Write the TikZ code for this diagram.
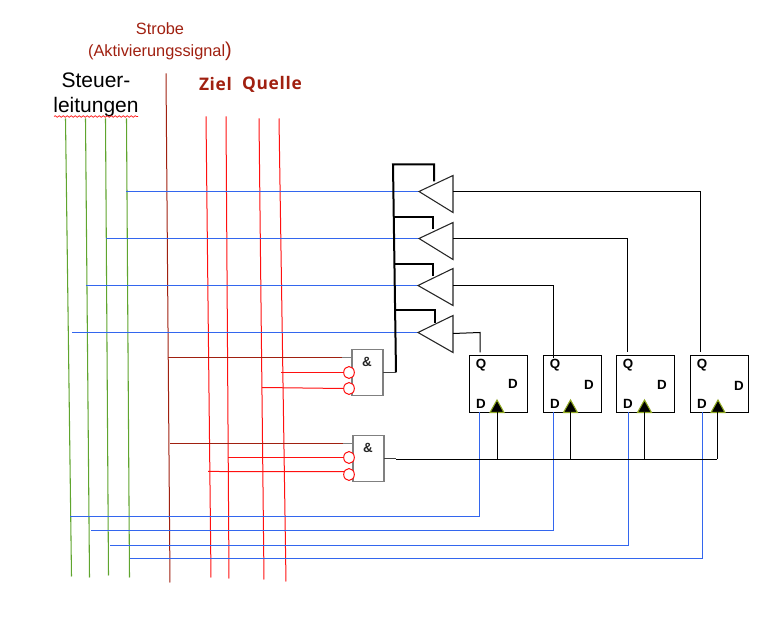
\documentclass[tikz,border=0pt]{standalone}
\usepackage{fontspec}
\setmainfont{Liberation Sans}
\newfontfamily\headfont[LetterSpace=4]{Open Sans Bold}
\usetikzlibrary{decorations.pathmorphing}
\definecolor{ctlgreen}{HTML}{5FA52E}
\definecolor{sigblue}{HTML}{3366EE}
\definecolor{sigred}{HTML}{FF1010}
\definecolor{darkred}{HTML}{A02010}
\definecolor{gategrey}{HTML}{808080}
\definecolor{clkedge}{HTML}{8FA820}
\tikzset{
  ctl/.style={ctlgreen,line width=0.8pt},
  strobe/.style={darkred,line width=0.75pt},
  sel/.style={sigred,line width=0.75pt},
  dat/.style={sigblue,line width=0.75pt},
  wire/.style={black,line width=0.75pt},
  bus/.style={black,line width=1.5pt},
  stub/.style={gategrey,line width=1pt},
  driver/.style={draw=black!85,fill=white,line width=0.8pt,line join=miter},
  gatebox/.style={draw=gategrey,fill=white,line width=1pt,minimum width=23.25pt,minimum height=34.5pt,inner sep=0pt},
  ffbox/.style={draw=black,fill=white,line width=0.75pt,minimum width=43.5pt,minimum height=42.75pt,inner sep=0pt},
  neg/.style={ellipse,draw=sigred,fill=white,line width=0.75pt,minimum width=8pt,minimum height=9pt,inner sep=0pt},
  pin/.style={font=\fontsize{10pt}{10pt}\selectfont\bfseries,inner sep=0pt},
  amp/.style={font=\fontsize{10pt}{10pt}\selectfont\bfseries,text=black!85,inner sep=0pt},
  clk/.style={fill=black,draw=clkedge,line width=0.8pt,line join=miter},
  head/.style={font=\headfont\fontsize{13pt}{14pt}\selectfont,text=darkred,inner sep=0pt},
  note/.style={font=\fontsize{12.25pt}{13pt}\selectfont,text=darkred,inner sep=0pt},
  black label/.style={font=\fontsize{15.75pt}{16pt}\selectfont,inner sep=0pt}
}
\usetikzlibrary{shapes.geometric}
\begin{document}
\begin{tikzpicture}[x=0.75pt,y=-0.75pt]
\useasboundingbox (0,0) rectangle (765,620);
\begin{scope}[shift={(0,0.5)}]
% vertical lines
\coordinate (g1a) at (65.5,118);  \coordinate (g1b) at (71.5,576);
\coordinate (g2a) at (85.5,118);  \coordinate (g2b) at (89.5,577);
\coordinate (g3a) at (105.5,118); \coordinate (g3b) at (108.5,575);
\coordinate (g4a) at (126.5,118); \coordinate (g4b) at (129.5,577);
\coordinate (sa) at (166,73);   \coordinate (sb) at (170,582);
\coordinate (z1a) at (206,116); \coordinate (z1b) at (211,577);
\coordinate (z2a) at (226,116); \coordinate (z2b) at (229,578);
\coordinate (q1a) at (259,118); \coordinate (q1b) at (264,579);
\coordinate (q2a) at (279,118); \coordinate (q2b) at (286,581);
\draw[ctl] (g1a) -- (g1b);
\draw[ctl] (g2a) -- (g2b);
\draw[ctl] (g3a) -- (g3b);
\draw[ctl] (g4a) -- (g4b);
\draw[strobe] (sa) -- (sb);
\draw[sel] (z1a) -- (z1b);
\draw[sel] (z2a) -- (z2b);
\draw[sel] (q1a) -- (q1b);
\draw[sel] (q2a) -- (q2b);
% drivers: tip, top, bottom
\coordinate (t1) at (419,191); \coordinate (t1u) at (453,175); \coordinate (t1d) at (453,212);
\coordinate (t2) at (419,238); \coordinate (t2u) at (453,222); \coordinate (t2d) at (453,259);
\coordinate (t3) at (418,285); \coordinate (t3u) at (453,268); \coordinate (t3d) at (453,305);
\coordinate (t4) at (418,332); \coordinate (t4u) at (453,315); \coordinate (t4d) at (453,352);
% control blue
\coordinate (c1) at (126,191); \coordinate (c2) at (106,238);
\coordinate (c3) at (86,285);  \coordinate (c4) at (72,332);
\draw[dat] (c1) -- (t1);
\draw[dat] (c2) -- (t2);
\draw[dat] (c3) -- (t3);
\draw[dat] (c4) -- (t4);
% bus
\coordinate (busT) at (393,164); \coordinate (busB) at (396,372);
\coordinate (e1) at (434,164); \coordinate (e1b) at (434,181);
\coordinate (s2) at (394,217); \coordinate (e2) at (433,217); \coordinate (e2b) at (433,229);
\coordinate (s3) at (394,264); \coordinate (e3) at (433,264); \coordinate (e3b) at (433,276);
\coordinate (s4) at (396,310); \coordinate (e4) at (435,310); \coordinate (e4b) at (435,323);
\draw[bus] (busB) -- (busT) -- (e1) -- (e1b);
\draw[bus] (s2) -- (e2) -- (e2b);
\draw[bus] (s3) -- (e3) -- (e3b);
\draw[bus] (s4) -- (e4) -- (e4b);
\draw[driver] (t1) -- (t1u) -- (t1d) -- cycle;
\draw[driver] (t2) -- (t2u) -- (t2d) -- cycle;
\draw[driver] (t3) -- (t3u) -- (t3d) -- cycle;
\draw[driver] (t4) -- (t4u) -- (t4d) -- cycle;
% flip-flops
\node[ffbox] (f1) at (498,383.5) {};
\node[ffbox] (f2) at (572,383.5) {};
\node[ffbox] (f3) at (645,383.5) {};
\node[ffbox] (f4) at (719,383.5) {};
\node[pin] (f1q) at (481,365) {Q}; \node[pin] (f1r) at (513,383) {D}; \node[pin] (f1d) at (481,403) {D};
\node[pin] (f2q) at (555,365) {Q}; \node[pin] (f2r) at (589,384) {D}; \node[pin] (f2d) at (555,403) {D};
\node[pin] (f3q) at (628,365) {Q}; \node[pin] (f3r) at (662,384) {D}; \node[pin] (f3d) at (628,403) {D};
\node[pin] (f4q) at (702,365) {Q}; \node[pin] (f4r) at (739,385) {D}; \node[pin] (f4d) at (702,403) {D};
\coordinate (k1) at (497,399.5); \coordinate (k1l) at (490,412); \coordinate (k1r) at (504,412);
\coordinate (k2) at (570.5,399.5); \coordinate (k2l) at (563.5,412); \coordinate (k2r) at (577.5,412);
\coordinate (k3) at (644.5,399.5); \coordinate (k3l) at (637.5,412); \coordinate (k3r) at (651.5,412);
\coordinate (k4) at (718,399.5); \coordinate (k4l) at (711,412); \coordinate (k4r) at (725,412);
\draw[clk] (k1) -- (k1l) -- (k1r) -- cycle;
\draw[clk] (k2) -- (k2l) -- (k2r) -- cycle;
\draw[clk] (k3) -- (k3l) -- (k3r) -- cycle;
\draw[clk] (k4) -- (k4l) -- (k4r) -- cycle;
% driver outputs
\coordinate (o1) at (453,191); \coordinate (o1a) at (700,191); \coordinate (o1b) at (700,352);
\coordinate (o2) at (453,238); \coordinate (o2a) at (627,238); \coordinate (o2b) at (627,352);
\coordinate (o3) at (453,285); \coordinate (o3a) at (553,285); \coordinate (o3b) at (553,358);
\coordinate (o4) at (453,333); \coordinate (o4a) at (480,332); \coordinate (o4b) at (480,352);
\draw[wire] (o1) -- (o1a) -- (o1b);
\draw[wire] (o2) -- (o2a) -- (o2b);
\draw[wire] (o3) -- (o3a) -- (o3b);
\draw[wire] (o4) -- (o4a) -- (o4b);
% data lines
\coordinate (d1) at (479,412); \coordinate (d1a) at (479,516); \coordinate (d1b) at (70,516);
\coordinate (d2) at (553,412); \coordinate (d2a) at (553,530); \coordinate (d2b) at (91,530);
\coordinate (d3) at (628,412); \coordinate (d3a) at (628,545); \coordinate (d3b) at (110,545);
\coordinate (d4) at (702,412); \coordinate (d4a) at (702,558); \coordinate (d4b) at (130,558);
\draw[dat] (d1) -- (d1a) -- (d1b);
\draw[dat] (d2) -- (d2a) -- (d2b);
\draw[dat] (d3) -- (d3a) -- (d3b);
\draw[dat] (d4) -- (d4a) -- (d4b);
% gates
\node[gatebox] (a1) at (367.5,372) {};
\node[gatebox] (a2) at (368.5,458) {};
\node[amp] (a1t) at (367,361) {\&};
\node[amp] (a2t) at (368,447) {\&};
\node[neg] (n1) at (349,372) {};
\node[neg] (n2) at (349,388) {};
\node[neg] (n3) at (349,457) {};
\node[neg] (n4) at (349,474) {};
% gate inputs
\coordinate (i1) at (168,357); \coordinate (i1m) at (342,357); \coordinate (i1e) at (352,357);
\coordinate (i2) at (281,372); \coordinate (i3) at (262,387);
\coordinate (i4) at (170,443); \coordinate (i4m) at (343,443); \coordinate (i4e) at (353,443);
\coordinate (i5) at (228,457);   \coordinate (i6) at (208,471);
\draw[strobe] (i1) -- (i1m);
\draw[stub] (i1m) -- (i1e);
\draw[sel] (i2) -- (n1.west);
\draw[sel] (i3) -- (n2.west);
\draw[strobe] (i4) -- (i4m);
\draw[stub] (i4m) -- (i4e);
\draw[sel] (i5) -- (n3.west);
\draw[sel] (i6) -- (n4.150);
% gate outputs
\coordinate (a1o) at (383,372);
\coordinate (a2o) at (384,458); \coordinate (a2m) at (396,458);
\coordinate (a2n) at (396,459);
\coordinate (clkE) at (717,459);
\coordinate (v1) at (497,412); \coordinate (v1b) at (497,459);
\coordinate (v2) at (570,412); \coordinate (v2b) at (570,459);
\coordinate (v3) at (644,412); \coordinate (v3b) at (644,459);
\coordinate (v4) at (717,412); \coordinate (v4b) at (717,459);
\draw[wire,black!75] (a1o) -- (busB);
\draw[wire,black!75] (a2o) -- (a2m);
\draw[wire] (a2n) -- (clkE);
\draw[wire] (v1) -- (v1b);
\draw[wire] (v2) -- (v2b);
\draw[wire] (v3) -- (v3b);
\draw[wire] (v4) -- (v4b);
\end{scope}
% texts
\node[note] (t-strobe) at (160,29) {Strobe};
\node[note,anchor=base] (t-akt) at (160,57) {(Aktivierungssignal{\fontsize{15pt}{15pt}\selectfont)}};
\node[black label,anchor=base] (t-st) at (96,87.5) {Steuer-};
\node[black label,anchor=base] (t-le) at (96,112.5) {leitungen};
\node[head] (t-ziel) at (215.5,84) {Ziel};
\node[head] (t-quelle) at (272,84) {Quelle};
\coordinate (w1) at (54,116.5); \coordinate (w2) at (138,116.5);
\draw[sigred,line width=0.5pt,decorate,decoration={snake,segment length=3pt,amplitude=0.6pt}] (w1) -- (w2);
\end{tikzpicture}
\end{document}
